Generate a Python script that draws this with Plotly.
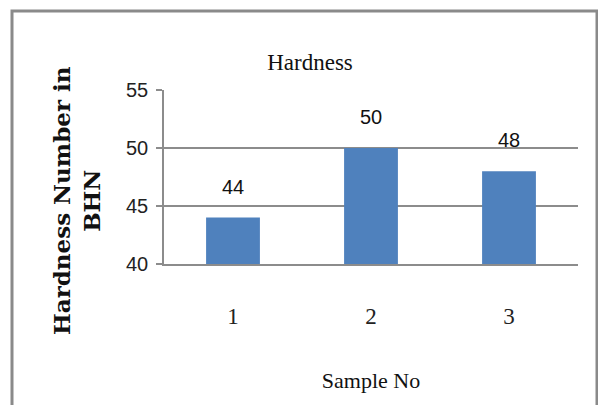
import plotly.graph_objects as go

samples = ["1", "2", "3"]
hardness = [44, 50, 48]
y_ticks = [40, 45, 50, 55]

W, H = 606, 405
OFF = 8  # page body margin compensation
# target pixel geometry (in screenshot coordinates)
PL, PR, PT, PB = 164, 578, 90, 264
L = PL - OFF
T = PT - OFF
R = W - (PR - OFF)
B = H - (PB - OFF)
pw, ph = W - L - R, H - T - B

def px_x(x):
    return (x - OFF - L) / pw

def px_y(y):
    return (H - B - (y - OFF)) / ph

fig = go.Figure()
fig.add_trace(go.Bar(
    x=samples, y=hardness, width=0.39,
    marker=dict(color="#4F81BD", line=dict(width=0)),
    showlegend=False,
))

for i, v in enumerate(hardness):
    fig.add_annotation(x=i, y=v, text=str(v), showarrow=False,
                       yanchor="bottom", yshift=18,
                       font=dict(family="Liberation Sans", size=20, color="#111"))

fig.update_layout(
    width=W, height=H,
    margin=dict(l=L, r=R, t=T, b=B, autoexpand=False),
    paper_bgcolor="white", plot_bgcolor="white",
)

fig.update_yaxes(
    range=[40, 55], tickvals=y_ticks, ticktext=[str(v) for v in y_ticks],
    showgrid=True, gridcolor="#8c8c8c", gridwidth=1.5,
    showline=True, linecolor="#8c8c8c", linewidth=1.5,
    ticks="outside", ticklen=6, tickcolor="#8c8c8c", tickwidth=1.5,
    ticklabelstandoff=4,
    tickfont=dict(family="Liberation Sans", size=20, color="#222"),
    zeroline=False,
)
fig.update_xaxes(
    type="category",
    showline=True, linecolor="#8c8c8c", linewidth=1.5,
    ticks="", ticklabelstandoff=31,
    tickfont=dict(family="Liberation Serif", size=23, color="#222"),
    title=dict(text="Sample No", standoff=44,
               font=dict(family="Liberation Serif", size=22, color="#111")),
)

fig.update_layout(
    title=dict(text="Hardness", xref="container", x=(310 - OFF) / W, xanchor="center",
               yref="container", y=1 - (62 - OFF) / H, yanchor="middle",
               font=dict(family="Liberation Serif", size=23, color="#111")),
)

# y-axis title (positioned as in the reference, below the plot centre)
fig.add_annotation(text="<b>Hardness Number in<br>BHN</b>", textangle=-90,
                   xref="paper", yref="paper", x=px_x(76), y=px_y(201),
                   xanchor="center", yanchor="middle", showarrow=False,
                   font=dict(family="DejaVu Serif", size=23, color="#111"))

# outer frame
fig.add_shape(type="rect", xref="paper", yref="paper",
              x0=px_x(12), x1=px_x(597), y0=px_y(430), y1=px_y(11),
              line=dict(color="#8a8a8a", width=3), fillcolor="rgba(0,0,0,0)",
              layer="below")
# extend baseline slightly left (tick stub)
fig.add_shape(type="line", xref="paper", yref="paper",
              x0=px_x(158), x1=0, y0=0, y1=0,
              line=dict(color="#8c8c8c", width=1.5))

fig.write_html("out.html")
